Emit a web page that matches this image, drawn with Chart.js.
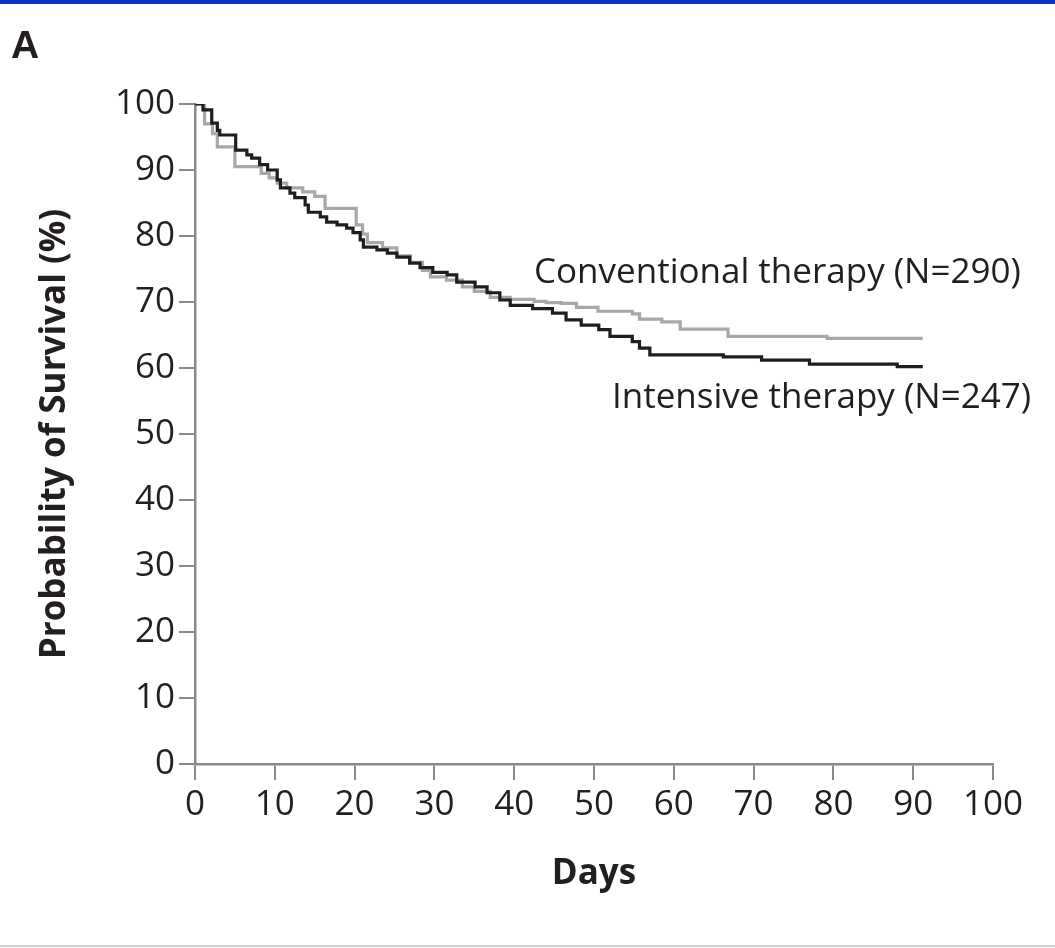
<!DOCTYPE html>
<html>
<head>
<meta charset="utf-8">
<title>Probability of Survival</title>
<script src="https://cdn.jsdelivr.net/npm/chart.js@4.4.1/dist/chart.umd.min.js"></script>
<style>
  html, body { margin: 0; padding: 0; background: #fff; }
  #wrap { position: relative; width: 1055px; height: 948px; overflow: hidden; }
  #km { position: absolute; left: 0; top: 0; }
  #topbar { position: absolute; left: 0; top: 0; width: 1055px; height: 4px; background: #0b34c4; }
  #bottomrule { position: absolute; left: 0; top: 945px; width: 1055px; height: 2px; background: #d0d0d0; }
</style>
</head>
<body>
<div id="wrap">
  <canvas id="km" width="1055" height="948"></canvas>
  <div id="topbar"></div>
  <div id="bottomrule"></div>
</div>
<script>
// Kaplan–Meier step points: day of each drop and survival (%) after it.
const intensiveDays = [0, 1.0, 2.1, 2.8, 3.1, 5.1, 6.5, 7.1, 8.1, 9.1, 10.3, 10.7, 11.9, 12.5, 13.8, 14.2,
  15.7, 16.5, 17.8, 19.0, 19.8, 20.7, 21.1, 22.8, 24.1, 25.3, 26.9, 28.2, 29.8, 31.6, 32.8, 35.1,
  36.6, 38.2, 39.5, 42.3, 44.8, 46.5, 48.4, 50.6, 52.0, 54.8, 55.7, 57.0, 66.2, 71.0, 77.0, 88.0, 91.2];
const intensiveSurvival = [100, 99.1, 97.1, 96.0, 95.3, 93.0, 92.3, 91.8, 90.8, 90.0, 88.5, 87.3, 86.5, 85.8, 84.7, 83.6,
  82.9, 82.1, 81.7, 81.2, 80.5, 79.4, 78.3, 77.9, 77.4, 76.8, 75.9, 75.2, 74.5, 74.1, 73.0, 72.3,
  71.4, 70.3, 69.5, 69.0, 68.3, 67.3, 66.5, 65.8, 64.8, 64.0, 63.0, 62.0, 61.7, 61.2, 60.6, 60.2, 60.2];

const conventionalDays = [0, 1.2, 2.2, 2.8, 5.0, 8.3, 9.3, 10.3, 11.5, 13.5, 15.0, 16.3, 20.2, 21.0, 21.6,
  23.5, 25.3, 27.0, 28.5, 29.5, 31.5, 33.5, 35.0, 37.0, 39.5, 42.5, 44.0, 45.9, 47.8, 50.5, 54.8,
  55.7, 58.5, 60.8, 66.8, 79.2, 91.2];
const conventionalSurvival = [100, 97.0, 95.5, 93.5, 90.5, 89.5, 88.8, 88.0, 87.3, 86.7, 86.0, 84.2, 81.7, 80.3, 79.0,
  78.2, 77.0, 76.0, 74.8, 73.8, 73.3, 72.3, 71.6, 70.7, 70.4, 70.1, 69.9, 69.8, 69.2, 68.6, 68.2,
  67.4, 67.0, 65.9, 64.8, 64.5, 64.5];

const seriesNames = ['Intensive therapy (N=247)', 'Conventional therapy (N=290)'];
const dayTicks = [0, 10, 20, 30, 40, 50, 60, 70, 80, 90, 100];
const survivalTicks = [0, 10, 20, 30, 40, 50, 60, 70, 80, 90, 100];
const panelLetter = 'A';
const xTitle = 'Days';
const yTitle = 'Probability of Survival (%)';

const ink = '#231f20';
const axisGrey = '#8a8a8a';
const bodyFont = '"Open Sans"';

function toPoints(days, values) {
  return days.map((d, i) => ({ x: d, y: values[i] }));
}

// Curve labels and the panel letter
const annotations = {
  id: 'annotations',
  afterDatasetsDraw(chart) {
    const ctx = chart.ctx;
    ctx.save();
    ctx.fillStyle = ink;
    ctx.textBaseline = 'middle';
    ctx.textAlign = 'left';
    ctx.font = '35px ' + bodyFont;
    ctx.fillText(seriesNames[1], 534, 273);
    ctx.fillText(seriesNames[0], 612, 398);
    ctx.font = 'bold 39px "Liberation Sans"';
    ctx.textBaseline = 'alphabetic';
    ctx.fillText(panelLetter, 11, 58);
    ctx.restore();
  }
};

new Chart(document.getElementById('km'), {
  type: 'line',
  data: {
    datasets: [
      {
        label: seriesNames[0],
        data: toPoints(intensiveDays, intensiveSurvival),
        borderColor: '#1e1e1e',
        borderWidth: 3.2,
        stepped: 'before',
        pointRadius: 0,
        fill: false
      },
      {
        label: seriesNames[1],
        data: toPoints(conventionalDays, conventionalSurvival),
        borderColor: '#a8a8a8',
        borderWidth: 3.2,
        stepped: 'before',
        pointRadius: 0,
        fill: false
      }
    ]
  },
  options: {
    responsive: false,
    animation: false,
    layout: { padding: { left: 0, top: 104, right: 62, bottom: 0 } },
    plugins: { legend: { display: false }, tooltip: { enabled: false } },
    scales: {
      x: {
        type: 'linear',
        min: 0,
        max: 100,
        afterBuildTicks: s => { s.ticks = dayTicks.map(v => ({ value: v })); },
        afterFit: s => { s.height = 184; },
        grid: { drawOnChartArea: false, drawTicks: true, tickLength: 16, color: axisGrey, lineWidth: 2 },
        border: { display: true, color: axisGrey, width: 2.5 },
        ticks: { padding: 4, color: ink, font: { family: bodyFont, size: 35 }, maxRotation: 0, autoSkip: false },
        title: { display: true, text: xTitle, color: ink, font: { family: bodyFont, size: 35, weight: 'bold' }, padding: { top: 0, bottom: 53 } }
      },
      y: {
        type: 'linear',
        min: 0,
        max: 100,
        afterBuildTicks: s => { s.ticks = survivalTicks.map(v => ({ value: v })); },
        afterFit: s => { s.width = 195; },
        grid: { drawOnChartArea: false, drawTicks: true, tickLength: 16, color: axisGrey, lineWidth: 2 },
        border: { display: true, color: axisGrey, width: 2.5 },
        ticks: { padding: 4, color: ink, font: { family: bodyFont, size: 35 }, autoSkip: false },
        title: { display: true, text: yTitle, color: ink, font: { family: bodyFont, size: 35, weight: 'bold' }, padding: { top: 34, bottom: 0 } }
      }
    }
  },
  plugins: [annotations]
});
</script>
</body>
</html>
